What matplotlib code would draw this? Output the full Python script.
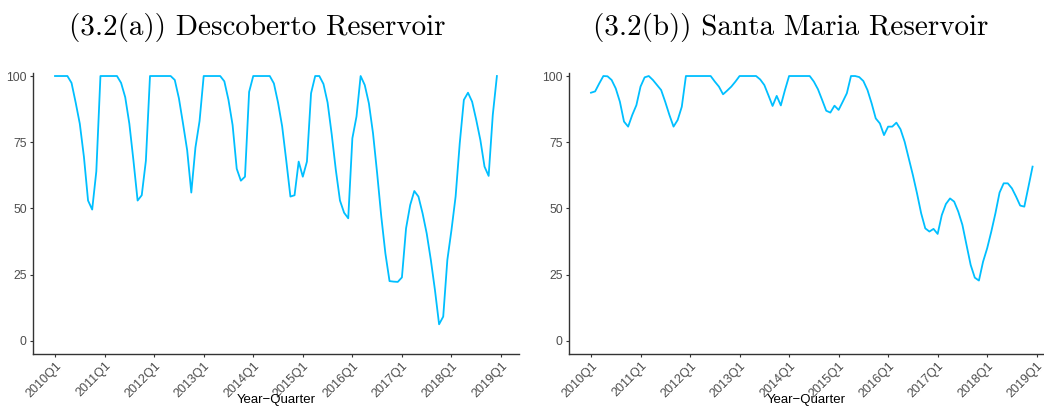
import matplotlib
matplotlib.use("Agg")
import matplotlib.pyplot as plt
import numpy as np

# monthly storage level (% of capacity), Jan 2010 .. Dec 2018
descoberto = [
    100, 100, 100, 100, 97.4, 90, 82, 69.5, 53, 49.6, 64, 100,
    100, 100, 100, 100, 97.4, 92, 82, 68, 53, 55, 68, 100,
    100, 100, 100, 100, 100, 98.5, 91.6, 82, 72, 56, 73, 83,
    100, 100, 100, 100, 100, 98, 91, 81.5, 65, 60.5, 62, 94,
    100, 100, 100, 100, 100, 97.2, 90, 81, 68, 54.5, 55, 67.7,
    62, 67.7, 93.5, 100, 100, 97, 90, 78, 64.5, 53, 48.4, 46.3,
    76.5, 84.7, 100, 96.6, 89.7, 78.4, 63.3, 47, 33, 22.6, 22.4, 22.3,
    24, 42.5, 51.3, 56.6, 54.5, 48.2, 40.6, 30.6, 19.2, 6.3, 9.2, 30.6,
    41.9, 54.5, 74.6, 91, 93.7, 90.3, 83.4, 75.8, 65.8, 62.3, 85.3, 100,
]
santa_maria = [
    93.7, 94.2, 97.2, 100, 99.9, 98.5, 95.3, 90.3, 82.8, 80.9, 85.3, 89,
    96, 99.5, 100, 98.5, 96.6, 94.7, 90.2, 85.3, 80.9, 83.4, 88.4, 100,
    100, 100, 100, 100, 100, 100, 97.9, 96, 93.1, 94.5, 96, 97.9,
    100, 100, 100, 100, 100, 98.7, 96.6, 92.7, 88.7, 92.5, 88.9, 94.7,
    100, 100, 100, 100, 100, 100, 97.9, 95, 91, 86.9, 86.2, 88.8,
    87.2, 90.3, 93.5, 100, 100, 99.6, 98.1, 94.7, 89.7, 84, 82.1, 77.7,
    80.9, 80.9, 82.4, 79.9, 75.2, 68.9, 62.6, 55.7, 48.2, 42.5, 41.3, 42.3,
    40.4, 47.5, 51.7, 53.8, 52.6, 48.8, 43.8, 36.2, 28.7, 23.9, 22.8, 29.9,
    35, 41.3, 48.2, 56, 59.5, 59.5, 57.6, 54.5, 51.1, 50.7, 58.2, 65.8,
]
titles = ["(3.2(a)) Descoberto Reservoir", "(3.2(b)) Santa Maria Reservoir"]
years = list(range(2010, 2020))
tick_labels = [f"{y}Q1" for y in years]
y_ticks = [0, 25, 50, 75, 100]

plt.rcParams["font.family"] = ["Liberation Sans", "DejaVu Sans"]
line_color = "#00BFFF"
text_gray = "#4D4D4D"


def draw_panel(fig, rect, values, xlim):
    ax = fig.add_axes(rect)
    months = np.arange(len(values))
    ax.plot(months, values, color=line_color, linewidth=1.3)
    ax.set_xlim(*xlim)
    ax.set_ylim(-4.8, 101.25)
    ax.set_xticks(np.arange(len(years)) * 12)
    ax.set_xticklabels(tick_labels, rotation=45, ha="right",
                       rotation_mode="anchor", fontsize=9, color=text_gray)
    ax.set_yticks(y_ticks)
    ax.set_yticklabels([str(v) for v in y_ticks], fontsize=8.8, color=text_gray)
    ax.tick_params(length=2.5, width=0.8, color="#333333", pad=2)
    for side in ("top", "right"):
        ax.spines[side].set_visible(False)
    for side in ("left", "bottom"):
        ax.spines[side].set_color("#333333")
        ax.spines[side].set_linewidth(1.0)
    ax.set_xlabel("Year\u2212Quarter", fontsize=9.5)
    ax.xaxis.set_label_coords(0.5, -0.145)
    return ax


fig = plt.figure(figsize=(10.44, 4.08), dpi=100)
draw_panel(fig, [33 / 1044, 0.1331, 486 / 1044, 0.6887], descoberto, (-5.33, 112.35))
draw_panel(fig, [569 / 1044, 0.1331, 475 / 1044, 0.6887], santa_maria, (-5.33, 109.77))

fig.text(257 / 1044, 1 - 27 / 408, titles[0], family="cmr10", fontsize=21,
         ha="center", va="center")
fig.text(791 / 1044, 1 - 27 / 408, titles[1], family="cmr10", fontsize=21,
         ha="center", va="center")

fig.savefig("out.png", dpi=100)
